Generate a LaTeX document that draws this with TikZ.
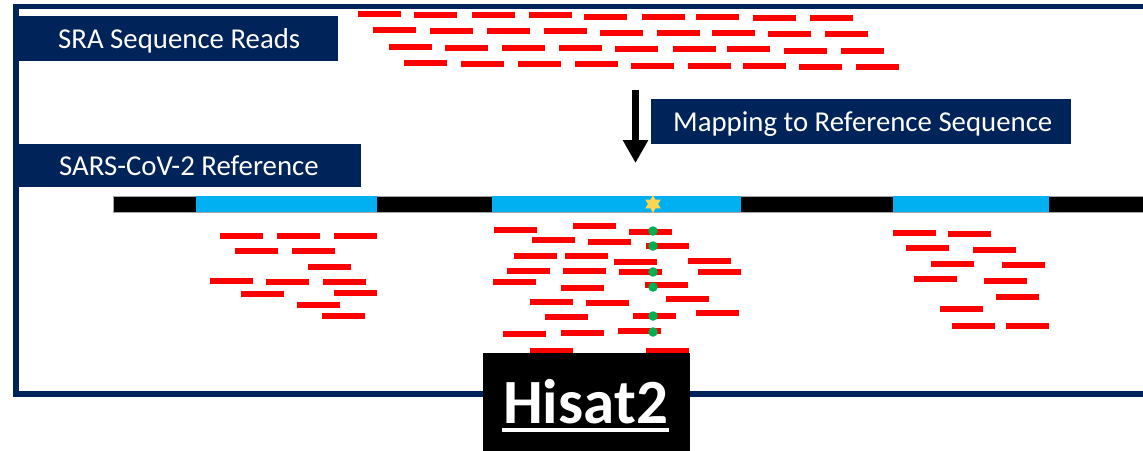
\documentclass[tikz,border=0pt]{standalone}
\usepackage{fontspec}
\setmainfont{Carlito}
\usetikzlibrary{arrows.meta,shapes.geometric}
\definecolor{navy}{RGB}{0,36,90}
\definecolor{readred}{RGB}{255,0,0}
\definecolor{barblue}{RGB}{0,176,240}
\definecolor{snpgreen}{RGB}{0,176,80}
\definecolor{staryellow}{RGB}{255,214,80}
\begin{document}
\begin{tikzpicture}[x=1pt,y=-1pt,
  readbar/.style={fill=readred},
  labelbox/.style={fill=navy, inner sep=0pt, outer sep=0pt, anchor=north west},
  labeltext/.style={text=white, inner sep=0pt, anchor=base west, font=\fontsize{28.8}{30}\selectfont},
  dot/.style={circle, fill=snpgreen, inner sep=0pt, minimum size=9.5pt}]
\useasboundingbox (0,0) rectangle (1143,450);
\clip (0,0) rectangle (1143,450);
\fill[white] (0,0) rectangle (1143,450);
% outer frame
\draw[navy, line width=5.5pt] (1170,6.5) -- (16,6.5) -- (16,394) -- (1170,394);
% top reads
\foreach \r in {0,1,2,3}{
  \foreach \dx/\dy in {0/0,56.4/1.1,113.5/1.1,170.6/1.1,226.3/2.9,284/2.9,338.4/2.9,394.8/4.3,452/4.3}{
    \fill[readred] ({358+15.4*\r+\dx},{10.7+16.4*\r+\dy}) rectangle ++(43,6);
  }
}
% label boxes
\node[labelbox, minimum width=320pt, minimum height=45pt] (srabox) at (18,16) {};
\node[labeltext] (sratext) at (58,48) {SRA Sequence Reads};
\node[labelbox, minimum width=420pt, minimum height=45pt] (mapbox) at (651,99) {};
\node[labeltext] (maptext) at (673,131.5) {Mapping to Reference Sequence};
\node[labelbox, minimum width=343pt, minimum height=43pt] (refbox) at (18,144) {};
\node[labeltext] (reftext) at (59,175) {SARS-CoV-2 Reference};
% arrow
\coordinate (arrS) at (635.5,90);
\coordinate (arrE) at (635.5,163);
\draw[line width=7pt, -{Triangle[width=24pt,length=23pt]}] (arrS) -- (arrE);
% genome bar
\fill[black, draw=gray!70, line width=0.6pt] (113,196) rectangle (1160,212);
\fill[barblue] (196,196) rectangle (377,211.5);
\fill[barblue] (492,196) rectangle (741,211.5);
\fill[barblue] (893,196) rectangle (1049,211.5);
\node[star, star points=6, star point ratio=1.8, minimum size=18pt, inner sep=0pt, fill=staryellow] (snp) at (653,204) {};
% left reads
\foreach \x/\y in {220/233,277/233,334/233,235/248,292/248,308/264,210/278,266/279,323/279,241/291,334/290,297/302,322/313}{
  \fill[readred] (\x,\y) rectangle ++(43,5.7);
}
% middle reads
\foreach \x/\y in {494/227,573/223,629/229,532/237,588/239,646/243,514/253,565/253,614/259,688/258,507/268,563/268,619/269,698/269,493/279,561/285,645/282,530/299,586/300,666/296,545/314,633/313,696/310,503/331,561/330,618/328,530/348,646/348}{
  \fill[readred] (\x,\y) rectangle ++(43,5.7);
}
% snp dots
\foreach \y [count=\i] in {231,246,272,287,316,332}{
  \node[dot] (d\i) at (653,\y) {};
}
% right reads
\foreach \x/\y in {893/230,948/231,906/245,973/247,931/261,1002/262,914/276,984/278,996/294,940/306,952/323,1006/323}{
  \fill[readred] (\x,\y) rectangle ++(43,5.7);
}
% Hisat2 label
\node[fill=black, inner sep=0pt, outer sep=0pt, anchor=north west, minimum width=207pt, minimum height=110pt] (hisbox) at (483,353) {};
\node[text=white, inner sep=0pt, anchor=base west, font=\bfseries\fontsize{63}{63}\selectfont] (histext) at (503,423) {Hisat2};
\draw[white, line width=4pt] (histext.base west) ++(-1,7) -- ++(167,0);
\end{tikzpicture}
\end{document}
